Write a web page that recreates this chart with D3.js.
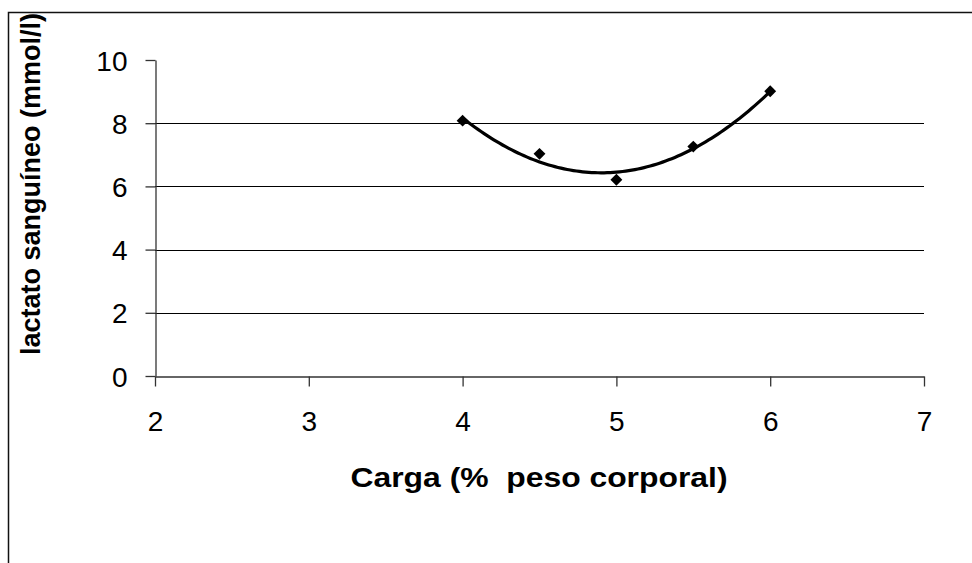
<!DOCTYPE html>
<html lang="es">
<head>
<meta charset="utf-8"/>
<title>lactato vs carga</title>
<script src="https://d3js.org/d3.v7.min.js"></script>
<style>
  body { margin: 0; background: #fff; }
  text { font-family: "Liberation Sans", Arial, sans-serif; fill: #000; }
</style>
</head>
<body>
<svg id="chart" width="972" height="563"></svg>
<script>
// data
const carga = [4, 4.5, 5, 5.5, 6];
const lactato = [8.08, 7.03, 6.21, 7.26, 9.01];
const xTicks = [2, 3, 4, 5, 6, 7];
const yTicks = [0, 2, 4, 6, 8, 10];
const xTitle = "Carga (%  peso corporal)";
const yTitle = "lactato sanguíneo (mmol/l)";

const svg = d3.select("#chart");

// outer chart border (runs off the right and bottom of the window)
svg.append("rect")
  .attr("x", 8.5).attr("y", 12.5)
  .attr("width", 1000).attr("height", 600)
  .attr("fill", "none").attr("stroke", "#111").attr("stroke-width", 1.5);

const x = d3.scaleLinear().domain([2, 7]).range([155, 924]);
const y = d3.scaleLinear().domain([0, 10]).range([376, 60]);

// gridlines
svg.append("g").selectAll("line")
  .data(yTicks.filter(d => d > 0 && d < 10))
  .join("line")
  .attr("x1", x(2)).attr("x2", x(7))
  .attr("y1", d => Math.round(y(d)) + 0.5).attr("y2", d => Math.round(y(d)) + 0.5)
  .attr("stroke", "#000").attr("stroke-width", 1);

// axes
const xAxis = svg.append("g")
  .attr("transform", "translate(0," + (Math.round(y(0)) + 0.5) + ")")
  .call(d3.axisBottom(x).tickValues(xTicks).tickFormat(d3.format("d"))
    .tickSize(10).tickSizeOuter(0).tickPadding(25));
const yAxis = svg.append("g")
  .attr("transform", "translate(" + (Math.round(x(2)) + 0.5) + ",0)")
  .call(d3.axisLeft(y).tickValues(yTicks).tickFormat(d3.format("d"))
    .tickSize(10).tickSizeOuter(0).tickPadding(18));

[xAxis, yAxis].forEach(g => {
  g.select(".domain").attr("stroke", "#333").attr("stroke-width", 1.3);
  g.selectAll(".tick line").attr("stroke", "#333").attr("stroke-width", 1.3);
  g.selectAll(".tick text")
    .attr("fill", "#000")
    .style("font-family", "'Liberation Sans', Arial, sans-serif")
    .style("font-size", "28px");
});
xAxis.selectAll(".tick text").attr("dy", "0.71em");
yAxis.selectAll(".tick text").attr("dy", "0.36em");

// polynomial (order 2) trendline, least squares on the points
function quadFit(xs, ys) {
  const n = xs.length;
  let s = [0, 0, 0, 0, 0], t = [0, 0, 0];
  for (let i = 0; i < n; i++) {
    for (let k = 0; k < 5; k++) s[k] += Math.pow(xs[i], k);
    for (let k = 0; k < 3; k++) t[k] += ys[i] * Math.pow(xs[i], k);
  }
  const A = [[s[0], s[1], s[2], t[0]], [s[1], s[2], s[3], t[1]], [s[2], s[3], s[4], t[2]]];
  for (let i = 0; i < 3; i++) {
    for (let j = i + 1; j < 3; j++) {
      const f = A[j][i] / A[i][i];
      for (let k = i; k < 4; k++) A[j][k] -= f * A[i][k];
    }
  }
  const c = [0, 0, 0];
  for (let i = 2; i >= 0; i--) {
    let v = A[i][3];
    for (let k = i + 1; k < 3; k++) v -= A[i][k] * c[k];
    c[i] = v / A[i][i];
  }
  return c;
}
const coef = quadFit(carga, lactato);
const trendX = d3.range(4, 6.0001, 0.02);
const line = d3.line()
  .x(d => x(d))
  .y(d => y(coef[0] + coef[1] * d + coef[2] * d * d));
svg.append("path")
  .datum(trendX)
  .attr("d", line)
  .attr("fill", "none")
  .attr("stroke", "#000")
  .attr("stroke-width", 3.2);

// diamond markers
svg.append("g").selectAll("path")
  .data(carga)
  .join("path")
  .attr("d", d3.symbol().type(d3.symbolDiamond2).size(90))
  .attr("transform", (d, i) => "translate(" + x(d) + "," + y(lactato[i]) + ")")
  .attr("fill", "#000");

// titles
svg.append("text")
  .attr("x", 539).attr("y", 487)
  .attr("text-anchor", "middle")
  .attr("textLength", 377).attr("lengthAdjust", "spacingAndGlyphs")
  .style("font-size", "28px").style("font-weight", "bold")
  .style("white-space", "pre")
  .text(xTitle);

svg.append("text")
  .attr("transform", "translate(40,184) rotate(-90)")
  .attr("text-anchor", "middle")
  .attr("textLength", 342).attr("lengthAdjust", "spacingAndGlyphs")
  .style("font-size", "27px").style("font-weight", "bold")
  .text(yTitle);
</script>
</body>
</html>
